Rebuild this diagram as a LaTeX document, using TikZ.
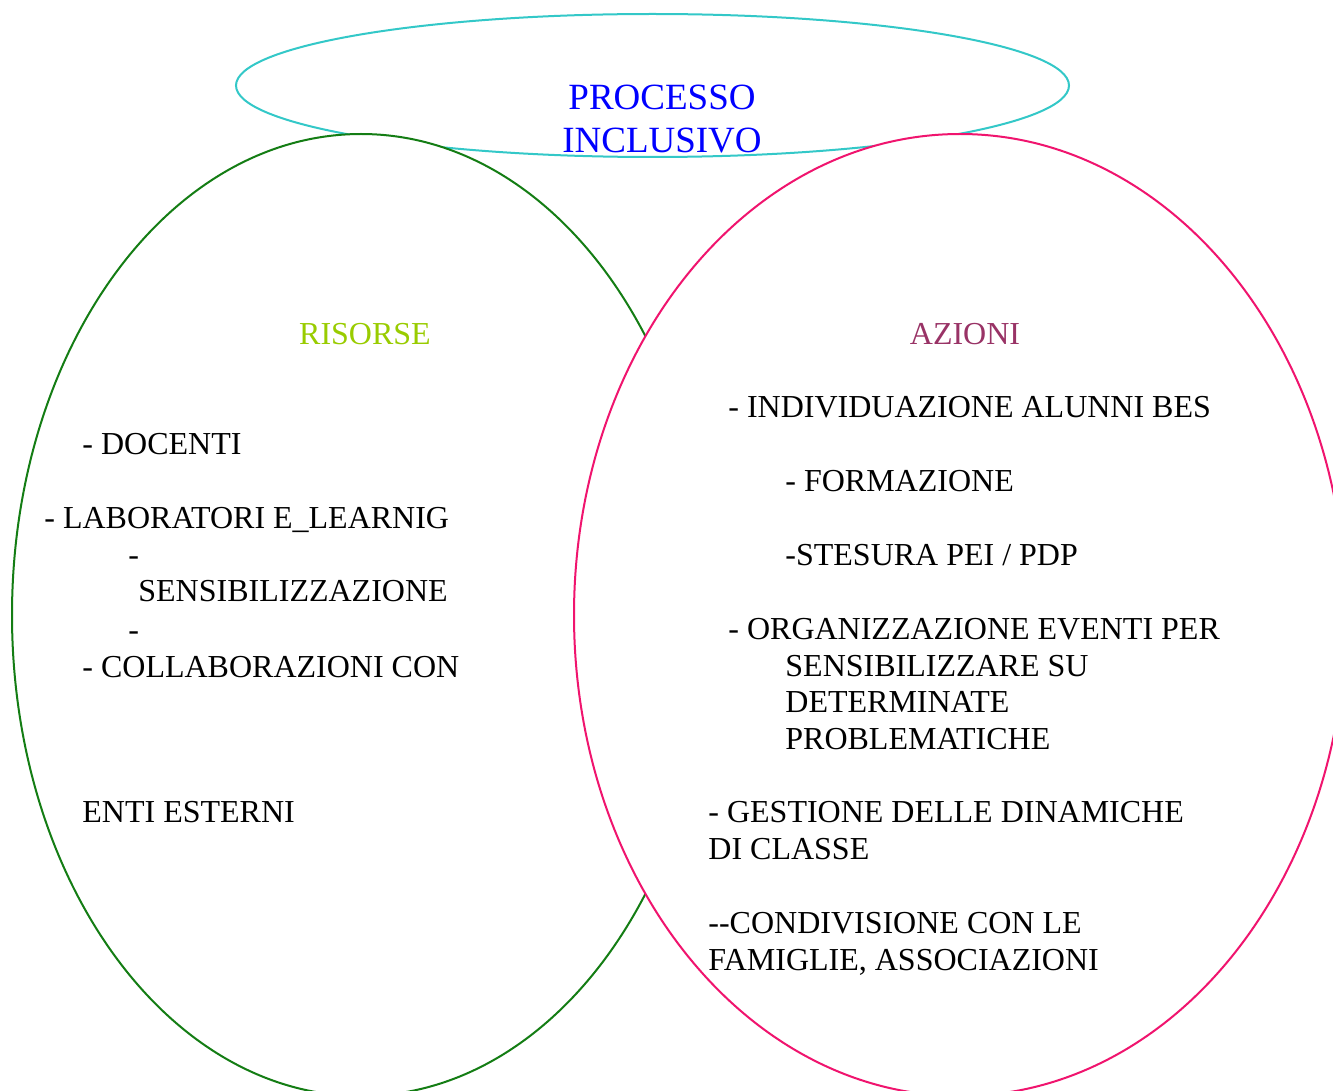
\documentclass[tikz,border=0pt]{standalone}
\usepackage{fontspec}
\setmainfont{Liberation Serif}
\usepackage{xcolor}
\usepackage{tikz}
\usetikzlibrary{shapes.geometric}

\definecolor{turchese}{RGB}{51,200,200}
\definecolor{verde}{RGB}{20,125,20}
\definecolor{fucsia}{RGB}{240,20,110}
\definecolor{lime}{RGB}{153,204,0}
\definecolor{prugna}{RGB}{153,51,102}

\begin{document}
\begin{tikzpicture}[x=0.5pt, y=-0.5pt,
    insieme/.style={draw, ellipse, inner sep=0pt, line width=1pt, fill=white},
    voce/.style={anchor=base west, inner sep=0pt, text=black, font=\fontsize{16}{18}\selectfont},
    testata/.style={anchor=base, inner sep=0pt, font=\fontsize{16}{18}\selectfont},
    titolo/.style={anchor=base, inner sep=0pt, text=blue, font=\fontsize{18.5}{21}\selectfont}]
    \useasboundingbox (0,0) rectangle (1333,1091);
    \clip (0,0) rectangle (1333,1091);
    \fill[white] (0,0) rectangle (1333,1091);

    \node[insieme, draw=turchese, minimum width=416.5pt, minimum height=71.5pt] (processo) at (652.5, 85.5) {};
    \node[insieme, draw=verde, minimum width=349pt, minimum height=481pt] (risorse) at (361, 615) {};
    \node[insieme, draw=fucsia, minimum width=386pt, minimum height=481pt] (azioni) at (960, 615) {};

    \node[titolo] (t1) at (662, 110) {PROCESSO};
    \node[titolo] (t2) at (662, 153) {INCLUSIVO};

    \node[testata, text=lime] (h1) at (365, 344) {RISORSE};
    \node[testata, text=prugna] (h2) at (965, 344) {AZIONI};

    \node[voce] (r1) at (82, 454) {- DOCENTI};
    \node[voce] (r2) at (44, 528) {- LABORATORI E\_LEARNIG};
    \node[voce] (r3) at (128, 565) {-};
    \node[voce] (r4) at (138, 601) {SENSIBILIZZAZIONE};
    \node[voce] (r5) at (128, 640) {-};
    \node[voce] (r6) at (82, 677) {- COLLABORAZIONI CON};
    \node[voce] (r7) at (82, 822) {ENTI ESTERNI};

    \node[voce] (a1) at (728, 417) {- INDIVIDUAZIONE ALUNNI BES};
    \node[voce] (a2) at (785, 491) {- FORMAZIONE};
    \node[voce] (a3) at (785, 565) {-STESURA PEI / PDP};
    \node[voce] (a4) at (728, 639) {- ORGANIZZAZIONE EVENTI PER};
    \node[voce] (a5) at (785, 676) {SENSIBILIZZARE SU};
    \node[voce] (a6) at (785, 712) {DETERMINATE};
    \node[voce] (a7) at (785, 749) {PROBLEMATICHE};
    \node[voce] (a8) at (708, 822) {- GESTIONE DELLE DINAMICHE};
    \node[voce] (a9) at (708, 859) {DI CLASSE};
    \node[voce] (a10) at (708, 933) {-{}-CONDIVISIONE CON LE};
    \node[voce] (a11) at (708, 970) {FAMIGLIE, ASSOCIAZIONI};
\end{tikzpicture}
\end{document}
